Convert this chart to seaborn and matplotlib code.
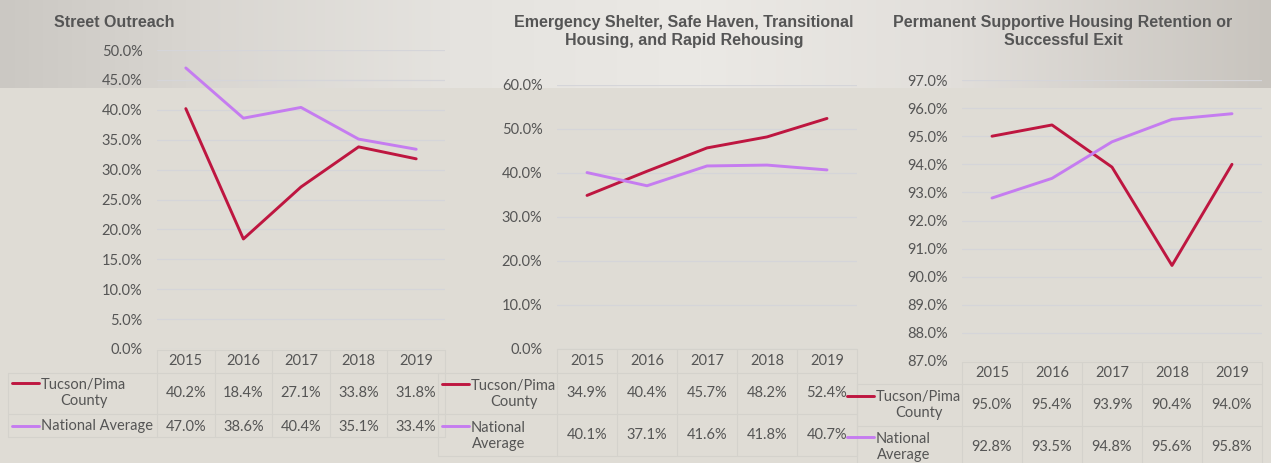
import numpy as np
import pandas as pd
import matplotlib
matplotlib.use("Agg")
import matplotlib.pyplot as plt
import matplotlib.transforms as mtransforms
from matplotlib.colors import to_rgb
import seaborn as sns

# Data
years = [2015, 2016, 2017, 2018, 2019]
series_names = ["Tucson/Pima County", "National Average"]

street_tucson = [40.2, 18.4, 27.1, 33.8, 31.8]
street_national = [47.0, 38.6, 40.4, 35.1, 33.4]
shelter_tucson = [34.9, 40.4, 45.7, 48.2, 52.4]
shelter_national = [40.1, 37.1, 41.6, 41.8, 40.7]
psh_tucson = [95.0, 95.4, 93.9, 90.4, 94.0]
psh_national = [92.8, 93.5, 94.8, 95.6, 95.8]

titles = ["Street Outreach",
          "Emergency Shelter, Safe Haven, Transitional\nHousing, and Rapid Rehousing",
          "Permanent Supportive Housing Retention or\nSuccessful Exit"]
street_ticks = [0, 5, 10, 15, 20, 25, 30, 35, 40, 45, 50]
shelter_ticks = [0, 10, 20, 30, 40, 50, 60]
psh_ticks = [87, 88, 89, 90, 91, 92, 93, 94, 95, 96, 97]

row_labels_1 = ["Tucson/Pima\nCounty", "National Average"]
row_labels_2 = ["Tucson/Pima\nCounty", "National\nAverage"]

colors = {"Tucson/Pima County": "#be1640", "National Average": "#c57cf0"}
text_col = "#555555"
grid_col = "#d5d5d9"
border_col = "#d4d2cc"

sns.set_style("white")
plt.rcParams["font.family"] = ["Lato", "DejaVu Sans"]

W, H = 1271, 463
fig = plt.figure(figsize=(W / 100, H / 100), dpi=100)


def rect(x0, x1, y_top, y_bot):
    return [x0 / W, 1 - y_bot / H, (x1 - x0) / W, (y_bot - y_top) / H]


# background: light gradient band on top, flat beige below
bg = fig.add_axes([0, 0, 1, 1], zorder=-10)
stops_x = [0, 200, 450, 700, 950, 1271]
stops_c = [to_rgb(c) for c in ["#cbc8c3", "#d9d6d1", "#e5e3df", "#ebe9e5", "#e2dfdb", "#c8c4be"]]
band = np.stack([np.interp(np.arange(W), stops_x, [c[i] for c in stops_c]) for i in range(3)], axis=-1)
img = np.empty((H, W, 3))
img[:88] = band[None, :, :]
img[88:] = to_rgb("#dfdcd5")
bg.imshow(img, aspect="auto", extent=[0, W, H, 0])
bg.axis("off")

# overlay for table/title text in pixel coords
ov = fig.add_axes([0, 0, 1, 1], zorder=5)
ov.set_xlim(0, W)
ov.set_ylim(H, 0)
ov.axis("off")
ov.patch.set_alpha(0)

charts = [
    dict(t=street_tucson, n=street_national, ticks=street_ticks, title=titles[0],
         plot=(157, 445, 50, 349), ylim=(0, 50), labels=row_labels_1,
         title_xy=(54, 22.5), title_ha="left",
         left=8, rows=(350, 373, 414, 437), year_y=361, val_y=(393, 427),
         key=(12, 39), key_y=(383, 426), lab_x=41, lab_y=(393, 426)),
    dict(t=shelter_tucson, n=shelter_national, ticks=shelter_ticks, title=titles[1],
         plot=(557, 857, 85, 349), ylim=(0, 60), labels=row_labels_2,
         title_xy=(684, 31.5), title_ha="center",
         left=438, rows=(349, 373, 414, 456), year_y=361, val_y=(393, 435),
         key=(442, 469), key_y=(384, 426), lab_x=471, lab_y=(394, 436)),
    dict(t=psh_tucson, n=psh_national, ticks=psh_ticks, title=titles[2],
         plot=(962, 1262, 80, 361), ylim=(87, 97), labels=row_labels_2,
         title_xy=(1063, 31.5), title_ha="center",
         left=857, rows=(362, 384, 426, 468), year_y=373, val_y=(405, 447),
         key=(847, 874), key_y=(396, 437), lab_x=876, lab_y=(405, 447)),
]

for c in charts:
    x0, x1, yt, yb = c["plot"]
    ax = fig.add_axes(rect(x0, x1, yt, yb))
    df = pd.DataFrame({
        "year": years * 2,
        "value": list(c["t"]) + list(c["n"]),
        "series": [series_names[0]] * 5 + [series_names[1]] * 5,
    })
    sns.lineplot(data=df, x="year", y="value", hue="series", palette=colors,
                 linewidth=2.1, legend=False, ax=ax, zorder=3)
    ax.set_xlim(years[0] - 0.5, years[-1] + 0.5)
    ax.set_ylim(*c["ylim"])
    ax.set_yticks(c["ticks"])
    ax.set_yticklabels([f"{v:.1f}%" for v in c["ticks"]])
    ax.set_xticks([])
    ax.set_xlabel("")
    ax.set_ylabel("")
    ax.tick_params(axis="y", length=0, pad=10.5, labelsize=10.5, labelcolor=text_col)
    ax.yaxis.grid(True, color=grid_col, linewidth=0.9)
    ax.set_axisbelow(True)
    ax.patch.set_alpha(0)
    for s in ax.spines.values():
        s.set_visible(False)

    # title
    tx, ty = c["title_xy"]
    ov.text(tx, ty, c["title"], ha=c["title_ha"], va="center", fontsize=11.5,
            fontweight="bold", color=text_col, family="Liberation Sans",
            linespacing=1.3)

    # data table under the chart
    trans = mtransforms.blended_transform_factory(ax.transData, ov.transData)
    h_top, h_bot, r1_bot, r2_bot = c["rows"]
    xl, xr = years[0] - 0.5, years[-1] + 0.5
    ov.plot([xl, xr], [h_top, h_top], transform=trans, color=border_col, lw=0.8)
    for yy in (h_bot, r1_bot, r2_bot):
        ov.plot([xl, xr], [yy, yy], transform=trans, color=border_col, lw=0.8)
        ov.plot([c["left"], x0], [yy, yy], color=border_col, lw=0.8)
    for b in [y - 0.5 for y in years] + [xr]:
        ov.plot([b, b], [h_top, r2_bot], transform=trans, color=border_col, lw=0.8)
    ov.plot([c["left"], c["left"]], [h_bot, r2_bot], color=border_col, lw=0.8)

    for yr in years:
        ov.text(yr, c["year_y"], str(yr), transform=trans, ha="center", va="center",
                fontsize=10.5, color=text_col)
    for vals, vy in zip([c["t"], c["n"]], c["val_y"]):
        for yr, v in zip(years, vals):
            ov.text(yr, vy, f"{v:.1f}%", transform=trans, ha="center", va="center",
                    fontsize=10.5, color=text_col)

    for name, lab, ky, ly in zip(series_names, c["labels"], c["key_y"], c["lab_y"]):
        ov.plot(list(c["key"]), [ky, ky], color=colors[name], lw=2.1, zorder=6)
        ov.text(c["lab_x"], ly, lab, ha="left", va="center", multialignment="center",
                fontsize=10.5, color=text_col, linespacing=1.25)

fig.savefig("out.png", dpi=100)
